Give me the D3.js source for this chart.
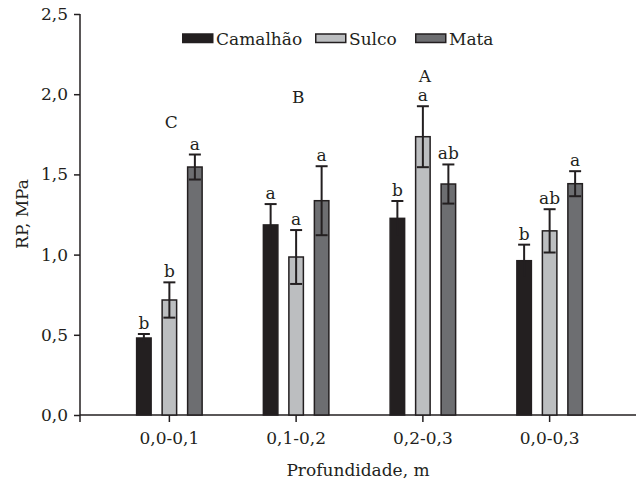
<!DOCTYPE html>
<html lang="pt">
<head>
  <meta charset="UTF-8" />
  <title>RP por profundidade</title>
  <script src="https://d3js.org/d3.v7.min.js"></script>
  <style>
    body { margin: 0; background: #fff; }
    svg { font-family: "DejaVu Serif", serif; }
    .axis path, .axis line { stroke: #231f20; stroke-width: 1.5; }
    .axis text { font-size: 17px; fill: #231f20; font-family: "DejaVu Serif", serif; }
  </style>
</head>
<body>
  <svg id="chart" width="636" height="481"></svg>
  <script>
    const categories = ["0,0-0,1", "0,1-0,2", "0,2-0,3", "0,0-0,3"];
    const series = ["Camalhão", "Sulco", "Mata"];
    const colors = ["#231f20", "#bcbec0", "#6d6e71"];

    // médias (MPa) e erro padrão, por série
    const camalhao = [0.48, 1.185, 1.226, 0.962];
    const sulco = [0.717, 0.985, 1.735, 1.148];
    const mata = [1.546, 1.336, 1.440, 1.442];
    const camalhaoErr = [0.025, 0.13, 0.108, 0.10];
    const sulcoErr = [0.11, 0.168, 0.19, 0.135];
    const mataErr = [0.078, 0.215, 0.122, 0.078];

    // letras de significância
    const camalhaoLetters = ["b", "a", "b", "b"];
    const sulcoLetters = ["b", "a", "a", "ab"];
    const mataLetters = ["a", "a", "ab", "a"];
    const groupLetters = ["C", "B", "A", ""];
    const groupLetterAt = [1.79, 1.945, 2.076, 0];

    const yTicks = [0, 0.5, 1.0, 1.5, 2.0, 2.5];

    const values = [camalhao, sulco, mata];
    const errors = [camalhaoErr, sulcoErr, mataErr];
    const letters = [camalhaoLetters, sulcoLetters, mataLetters];

    const svg = d3.select("#chart");
    const ink = "#231f20";
    const fs = 17;

    const y = d3.scaleLinear().domain([0, 2.5]).range([415, 14]);
    const x = d3.scaleBand().domain(categories).range([106, 613]);
    const x1 = d3.scalePoint().domain(series).range([-25.5, 25.5]);
    const bw = 16;
    const center = c => x(c) + x.bandwidth() / 2;

    // eixo y
    svg.append("g")
      .attr("class", "axis")
      .attr("transform", "translate(80,0)")
      .call(d3.axisLeft(y).tickValues(yTicks).tickSize(6).tickPadding(6)
        .tickFormat(d => d3.format(".1f")(d).replace(".", ",")))
      .call(g => g.select(".domain").attr("d", "M0,14V422"));

    // eixo x
    svg.append("g")
      .attr("class", "axis")
      .attr("transform", "translate(0,415)")
      .call(d3.axisBottom(x).tickSize(7).tickPadding(10))
      .call(g => g.select(".domain").attr("d", "M80,0H636"));

    // barras
    series.forEach((s, si) => {
      const g = svg.append("g");
      categories.forEach((c, ci) => {
        const cx = center(c) + x1(s);
        const v = values[si][ci];
        const e = errors[si][ci];
        g.append("rect")
          .attr("x", cx - bw / 2 + 0.75)
          .attr("y", y(v))
          .attr("width", bw - 1.5)
          .attr("height", y(0) - y(v))
          .attr("fill", colors[si])
          .attr("stroke", ink)
          .attr("stroke-width", 1.5);

        // barra de erro
        g.append("line")
          .attr("x1", cx).attr("x2", cx)
          .attr("y1", y(v - e)).attr("y2", y(v + e))
          .attr("stroke", ink).attr("stroke-width", 2);
        [v - e, v + e].forEach(val => {
          if (si === 0 && val < v) return;
          g.append("line")
            .attr("x1", cx - 6).attr("x2", cx + 6)
            .attr("y1", y(val)).attr("y2", y(val))
            .attr("stroke", ink).attr("stroke-width", 2);
        });

        g.append("text")
          .attr("x", cx)
          .attr("y", y(v + e) - 5)
          .attr("text-anchor", "middle")
          .attr("font-size", fs)
          .attr("fill", ink)
          .text(letters[si][ci]);
      });
    });

    // letras maiúsculas por profundidade
    categories.forEach((c, ci) => {
      if (!groupLetters[ci]) return;
      svg.append("text")
        .attr("x", center(c) + 2)
        .attr("y", y(groupLetterAt[ci]))
        .attr("text-anchor", "middle")
        .attr("font-size", fs)
        .attr("fill", ink)
        .text(groupLetters[ci]);
    });

    // legenda
    const legendX = [182, 315, 415];
    const legend = svg.append("g");
    series.forEach((s, si) => {
      legend.append("rect")
        .attr("x", legendX[si] + 0.75)
        .attr("y", 34)
        .attr("width", 30)
        .attr("height", 8.5)
        .attr("fill", colors[si])
        .attr("stroke", ink)
        .attr("stroke-width", 1.5);
      legend.append("text")
        .attr("x", legendX[si] + 34)
        .attr("y", 45)
        .attr("font-size", fs)
        .attr("fill", ink)
        .text(s);
    });

    // títulos dos eixos
    svg.append("text")
      .attr("x", 358)
      .attr("y", 476)
      .attr("text-anchor", "middle")
      .attr("font-size", fs)
      .attr("fill", ink)
      .text("Profundidade, m");

    svg.append("text")
      .attr("transform", "translate(28,214) rotate(-90)")
      .attr("text-anchor", "middle")
      .attr("font-size", fs)
      .attr("fill", ink)
      .text("RP, MPa");
  </script>
</body>
</html>
